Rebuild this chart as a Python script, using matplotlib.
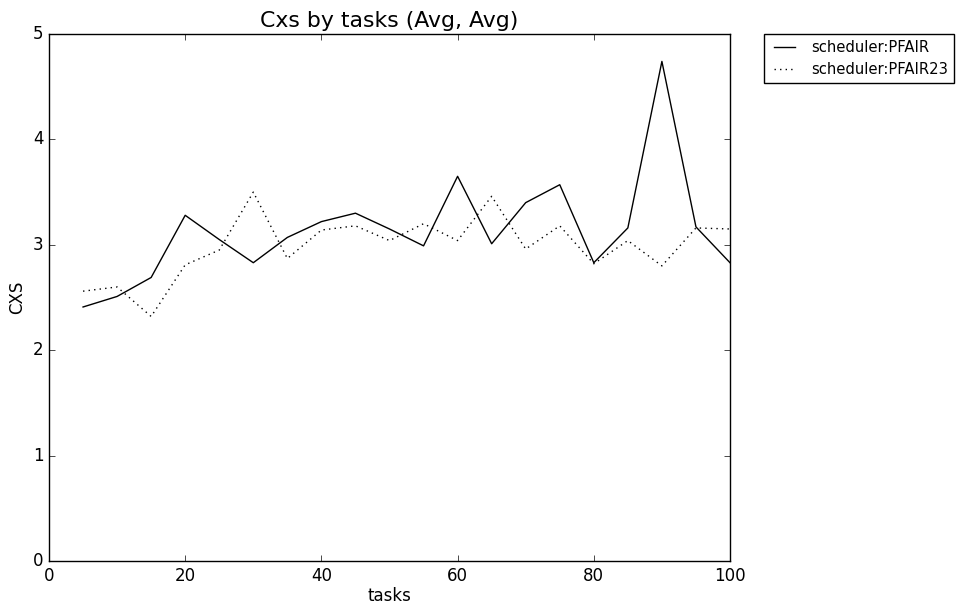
import matplotlib
matplotlib.use("Agg")
import matplotlib.pyplot as plt

plt.style.use('classic')

tasks = [5, 10, 15, 20, 25, 30, 35, 40, 45, 50, 55, 60, 65, 70, 75, 80, 85, 90, 95, 100]
pfair = [2.41, 2.51, 2.69, 3.28, 3.05, 2.83, 3.07, 3.22, 3.30, 3.15, 2.99, 3.65, 3.01, 3.40, 3.57, 2.83, 3.16, 4.74, 3.17, 2.83]
pfair23 = [2.56, 2.60, 2.32, 2.81, 2.95, 3.50, 2.87, 3.14, 3.18, 3.04, 3.20, 3.04, 3.46, 2.96, 3.18, 2.82, 3.04, 2.80, 3.16, 3.15]

fig = plt.figure(figsize=(9.58, 6.07), dpi=100, facecolor='white')
ax = fig.add_axes([49/958, 46/607, 681/958, 527/607])
ax.plot(tasks, pfair, 'k-', label='scheduler:PFAIR')
ax.plot(tasks, pfair23, 'k:', label='scheduler:PFAIR23')
ax.set_xlim(0, 100)
ax.set_ylim(0, 5)
ax.set_title('Cxs by tasks (Avg, Avg)', fontsize=15.8)
ax.set_xlabel('tasks', labelpad=2)
ax.set_ylabel('CXS')
ax.legend(bbox_to_anchor=(1.05, 1), loc=2, borderaxespad=0., fontsize=10.6)
fig.savefig('out.png', dpi=100, facecolor='white')
